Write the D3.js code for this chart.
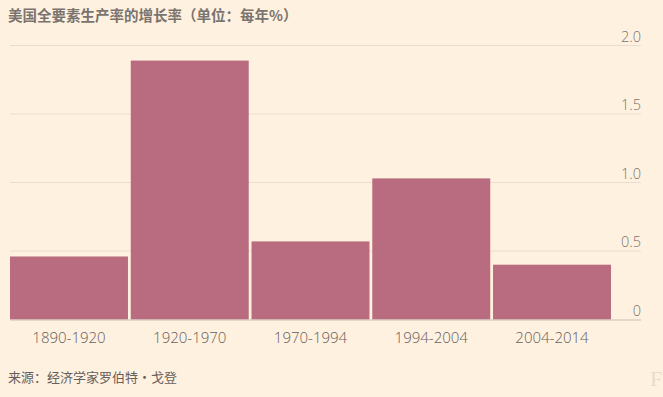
<!DOCTYPE html>
<html><head><meta charset="utf-8">
<script src="https://cdn.jsdelivr.net/npm/d3@7"></script>
<style>
html,body{margin:0;padding:0;background:#fff1e0;}
svg{display:block;}
</style></head>
<body>
<script>
const title = "美国全要素生产率的增长率（单位：每年%）";
const source = "来源：经济学家罗伯特•戈登";
const categories = ["1890-1920","1920-1970","1970-1994","1994-2004","2004-2014"];
const values = [0.46, 1.89, 0.57, 1.03, 0.40];
const yTicks = [0, 0.5, 1.0, 1.5, 2.0];
const yTickLabels = ["0","0.5","1.0","1.5","2.0"];

const W = 663, H = 397;
const svg = d3.select("body").append("svg").attr("width", W).attr("height", H);
svg.append("rect").attr("width", W).attr("height", H).attr("fill", "#fff1e0");

const font = "'Noto Sans CJK SC','Noto Sans',sans-serif";
const numFont = "'Open Sans', 'Noto Sans', sans-serif";
const y = d3.scaleLinear().domain([0, 2]).range([319.5, 45.5]);
const x = d3.scaleBand().domain(categories).range([10, 611]).paddingInner(0.023).paddingOuter(0);

// gridlines
const grid = svg.append("g");
grid.selectAll("line").data(yTicks.filter(d => d > 0)).join("line")
  .attr("x1", 10).attr("x2", 641)
  .attr("y1", d => y(d)).attr("y2", d => y(d))
  .attr("stroke", "#eaddcf").attr("stroke-width", 1);

// y tick labels
const yAxis = d3.axisRight(y).tickValues(yTicks).tickSize(0).tickFormat((d,i) => yTickLabels[i]);
const ya = svg.append("g").attr("transform", "translate(641,0)").call(yAxis);
ya.select(".domain").remove();
ya.selectAll("text").attr("x", 0).attr("dy", "-0.3em").attr("text-anchor", "end")
  .attr("fill", "#7a746f").style("font-family", numFont).style("font-weight", "300").style("font-size", "14.5px");

// bars
svg.append("g").selectAll("rect").data(values).join("rect")
  .attr("x", (d,i) => x(categories[i]))
  .attr("width", x.bandwidth())
  .attr("y", d => y(d))
  .attr("height", d => y(0) - y(d))
  .attr("fill", "#b96c7f");

// baseline
svg.append("line").attr("x1", 10).attr("x2", 641).attr("y1", y(0)+0.5).attr("y2", y(0)+0.5)
  .attr("stroke", "#c9c0b5").attr("stroke-width", 1.2);

// x axis labels
const xAxis = d3.axisBottom(x).tickSize(0);
const xa = svg.append("g").attr("transform", `translate(0,${y(0)})`).call(xAxis);
xa.select(".domain").remove();
xa.selectAll("text").attr("y", 13).attr("dy", "0.71em")
  .attr("fill", "#66605c").style("font-family", numFont).style("font-weight", "300").style("font-size", "15px");

// title
svg.append("text").attr("x", 8).attr("y", 21).text(title)
  .attr("fill", "#7a746f").style("font-family", font).style("font-size", "14.5px").style("font-weight", "bold");

// source
svg.append("text").attr("x", 8).attr("y", 382).text(source)
  .attr("fill", "#66605c").style("font-family", font).style("font-size", "13px");

// logo
svg.append("text").attr("x", 650).attr("y", 386).text("F")
  .attr("fill", "#e8dccd").style("font-family", "'Liberation Serif', serif").style("font-size", "22px");
</script>
</body></html>
